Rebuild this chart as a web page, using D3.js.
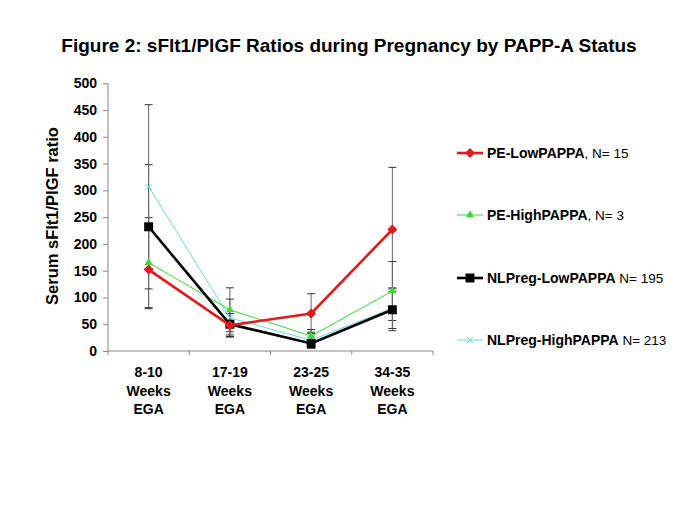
<!DOCTYPE html>
<html><head><meta charset="utf-8">
<script src="https://cdn.jsdelivr.net/npm/d3@7"></script>
<style>body{margin:0;background:#fff;} svg{display:block;font-family:"Liberation Sans",Arial,sans-serif;}</style>
</head><body>
<svg id="c" width="685" height="513"></svg>
<script>
const categories = [["8-10","Weeks","EGA"],["17-19","Weeks","EGA"],["23-25","Weeks","EGA"],["34-35","Weeks","EGA"]];
const yTicks = [0,50,100,150,200,250,300,350,400,450,500];
const seriesNames = ["PE-LowPAPPA","PE-HighPAPPA","NLPreg-LowPAPPA","NLPreg-HighPAPPA"];
const seriesN = [", N= 15",", N= 3"," N= 195"," N= 213"];
const peLow = [152, 48, 70, 227];
const peHigh = [165, 77, 28, 112];
const nlLow = [232, 50, 14, 77];
const nlHigh = [307, 62, 20, 80];
const peLowErr = [73, 22, 37, 116];
const peHighErr = [84, 41, 12, 55];
const nlLowErr = [116, 20, 8, 39];
const nlHighErr = [153, 35, 15, 38];

const series = [
  {name:seriesNames[0], n:seriesN[0], vals:peLow, err:peLowErr, color:"#e31a1c", w:2.6, sym:"diamond", size:5},
  {name:seriesNames[1], n:seriesN[1], vals:peHigh, err:peHighErr, color:"#33dd33", w:1, sym:d3.symbolTriangle, size:28},
  {name:seriesNames[2], n:seriesN[2], vals:nlLow, err:nlLowErr, color:"#000000", w:2.6, sym:d3.symbolSquare, size:80},
  {name:seriesNames[3], n:seriesN[3], vals:nlHigh, err:nlHighErr, color:"#66dddd", w:1, sym:"x", size:3}
];

const svg = d3.select("#c");
const x = d3.scaleBand().domain(d3.range(categories.length)).range([108,433]);
const y = d3.scaleLinear().domain([0,500]).range([351,83.3]);

svg.append("text").attr("x",349).attr("y",52).attr("text-anchor","middle")
  .attr("font-size",19).attr("font-weight","bold").text("Figure 2: sFlt1/PlGF Ratios during Pregnancy by PAPP-A Status");

// y axis
const ya = svg.append("g").attr("transform","translate(108,0)")
  .call(d3.axisLeft(y).tickValues(yTicks).tickSize(5).tickPadding(6));
ya.select(".domain").attr("stroke","#888").attr("d","M0,83.3V351");
ya.selectAll(".tick line").attr("stroke","#888");
ya.selectAll(".tick text").attr("font-size",14).attr("font-weight","bold").attr("fill","#000").attr("font-family","Liberation Sans, Arial, sans-serif");

// x axis
const xa = svg.append("g").attr("transform","translate(0,351)")
  .call(d3.axisBottom(x).tickSize(0).tickFormat(""));
xa.select(".domain").attr("stroke","#888").attr("d","M108,0H433");
const bounds = [108].concat(x.domain().map(i=>x(i)+x.bandwidth()));
xa.selectAll(".bt").data(bounds).enter().append("line").attr("class","bt")
  .attr("x1",d=>d).attr("x2",d=>d).attr("y1",0).attr("y2",4).attr("stroke","#888");
categories.forEach((lines,i)=>{
  const t = svg.append("text").attr("text-anchor","middle").attr("font-size",14).attr("font-weight","bold");
  lines.forEach((l,j)=>t.append("tspan").attr("x",x(i)+x.bandwidth()/2).attr("y",377+j*18.5).text(l));
});

// y title
svg.append("text").attr("transform","translate(58,216) rotate(-90)").attr("text-anchor","middle")
  .attr("font-size",16.5).attr("font-weight","bold").text("Serum sFlt1/PlGF ratio");

const cx = i => x(i)+x.bandwidth()/2;

// error bars
series.forEach(s=>{
  const g = svg.append("g");
  s.vals.forEach((v,i)=>{
    const lo=y(Math.max(0,v-s.err[i])), hi=y(v+s.err[i]);
    g.append("line").attr("x1",cx(i)).attr("x2",cx(i)).attr("y1",lo).attr("y2",hi).attr("stroke","#666").attr("stroke-width",1);
    [lo,hi].forEach(yy=>g.append("line").attr("x1",cx(i)-4).attr("x2",cx(i)+4).attr("y1",yy).attr("y2",yy).attr("stroke","#333").attr("stroke-width",1));
  });
});

function drawMarker(g, s, px, py){
  if(s.sym==="x"){
    const r=s.size;
    g.append("path").attr("d",`M${px-r},${py-r}L${px+r},${py+r}M${px-r},${py+r}L${px+r},${py-r}`).attr("stroke",s.color).attr("stroke-width",1);
  } else if(s.sym==="diamond"){
    const r=s.size;
    g.append("path").attr("d",`M${px},${py-r}L${px+r},${py}L${px},${py+r}L${px-r},${py}Z`).attr("fill",s.color);
  } else {
    g.append("path").attr("d",d3.symbol().type(s.sym).size(s.size)()).attr("transform",`translate(${px},${py})`).attr("fill",s.color);
  }
}

const line = d3.line().x((d,i)=>cx(i)).y(d=>y(d));
const order=[3,1,2,0];
order.forEach(k=>{
  const s=series[k];
  const g=svg.append("g");
  g.append("path").datum(s.vals).attr("d",line).attr("fill","none").attr("stroke",s.color).attr("stroke-width",s.w);
  s.vals.forEach((v,i)=>drawMarker(g,s,cx(i),y(v)));
});

// legend
const legY=[153,215,278,340];
series.forEach((s,k)=>{
  const g=svg.append("g");
  const yy=legY[k];
  g.append("line").attr("x1",457).attr("x2",483).attr("y1",yy).attr("y2",yy).attr("stroke",s.color).attr("stroke-width",s.w);
  drawMarker(g,s,470,yy);
  const t=g.append("text").attr("x",487).attr("y",yy+5).attr("font-size",14);
  t.append("tspan").attr("font-weight","bold").text(s.name);
  t.append("tspan").attr("font-size",13.5).text(s.n);
});
</script>
</body></html>
